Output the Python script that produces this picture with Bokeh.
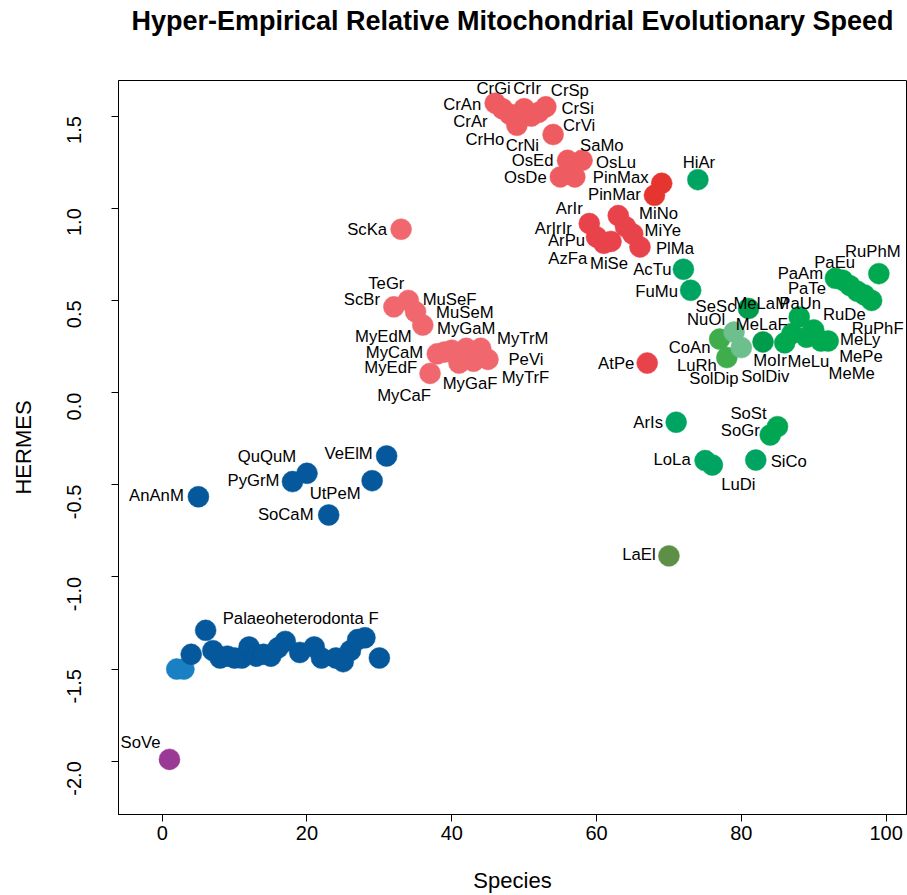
from bokeh.plotting import figure
from bokeh.models import ColumnDataSource, FixedTicker, PrintfTickFormatter, Range1d, Title
from bokeh.core.properties import value
from bokeh.embed import file_html
from bokeh.resources import INLINE
import math

# ---------------- data ----------------
species = list(range(1, 100))
hermes = [
    -1.99, -1.50, -1.50, -1.42, -0.565, -1.29, -1.40, -1.44, -1.43, -1.44,
    -1.44, -1.38, -1.43, -1.42, -1.43, -1.385, -1.35, -0.483, -1.41, -0.438,
    -1.38, -1.44, -0.664, -1.44, -1.46, -1.40, -1.34, -1.33, -0.478, -1.44,
    -0.344, 0.465, 0.886, 0.50, 0.438, 0.366, 0.104, 0.21, 0.22, 0.23,
    0.16, 0.24, 0.17, 0.24, 0.18, 1.57, 1.54, 1.51, 1.45, 1.54,
    1.50, 1.52, 1.55, 1.40, 1.17, 1.26, 1.17, 1.26, 0.917, 0.844,
    0.81, 0.82, 0.96, 0.90, 0.86, 0.79, 0.16, 1.07, 1.135, -0.886,
    -0.161, 0.669, 0.555, 1.155, -0.369, -0.393, 0.29, 0.19, 0.328, 0.244,
    0.456, -0.366, 0.275, -0.23, -0.185, 0.27, 0.32, 0.41, 0.30, 0.34,
    0.28, 0.28, 0.62, 0.61, 0.58, 0.55, 0.53, 0.50, 0.645,
]
groups = (["purple"] + ["lightblue"] * 2 + ["blue"] * 28 + ["pink"] * 14 +
          ["cr"] * 13 + ["red"] * 9 + ["pin"] * 2 + ["olive"] + ["teal"] * 6 +
          ["leaf"] * 2 + ["pale"] * 2 + ["dark"] + ["teal"] + ["dark"] +
          ["so"] * 2 + ["green"] * 14)
labels = [
    "SoVe", "", "", "", "AnAnM", "", "", "", "", "",
    "", "", "", "", "", "", "", "PyGrM", "", "QuQuM",
    "", "", "SoCaM", "", "", "", "", "", "UtPeM", "",
    "VeElM", "ScBr", "ScKa", "TeGr", "MuSeF", "MuSeM", "MyCaF", "MyEdM", "MyCaM", "MyEdF",
    "MyGaF", "MyGaM", "MyTrF", "MyTrM", "PeVi", "CrAn", "CrAr", "CrGi", "CrHo", "CrIr",
    "CrNi", "CrSi", "CrSp", "CrVi", "OsDe", "OsEd", "SaMo", "OsLu", "ArIrIr", "ArPu",
    "AzFa", "MiSe", "ArIr", "MiNo", "MiYe", "PlMa", "AtPe", "PinMar", "PinMax", "LaEl",
    "ArIs", "AcTu", "FuMu", "HiAr", "LoLa", "LuDi", "CoAn", "LuRh", "NuOl", "SolDiv",
    "SeSc", "SiCo", "MoIr", "SoGr", "SoSt", "MeLaF", "", "MeLaM", "MeLu", "MeMe",
    "MePe", "MeLy", "PaAm", "PaEu", "PaTe", "PaUn", "RuDe", "RuPhF", "RuPhM",
]
extra_labels = ["SolDip", "Palaeoheterodonta F"]
extra_anchor = [78, 6]

x_ticks = [0, 20, 40, 60, 80, 100]
y_ticks = [-2.0, -1.5, -1.0, -0.5, 0.0, 0.5, 1.0, 1.5]
title_text = "Hyper-Empirical Relative Mitochondrial Evolutionary Speed"
x_title = "Species"
y_title = "HERMES"

# ---------------- styles ----------------
palette = {
    "purple": "#9b3a96", "lightblue": "#1a80c4", "blue": "#04589b",
    "pink": "#f0686e", "cr": "#ee5c61", "red": "#e8434b", "pin": "#e6352f",
    "olive": "#5e8f46", "teal": "#00a462", "leaf": "#3fad4b", "pale": "#6dbf8d",
    "dark": "#009c4c", "so": "#00a652", "green": "#00a84f",
}
# label offsets in screen pixels (dx right, dy down) relative to the point
label_offsets = {
    "SoVe": (-29, -17), "AnAnM": (-42, -1), "PyGrM": (-39, -1), "QuQuM": (-40, -17),
    "SoCaM": (-43, 0), "UtPeM": (-37, 13), "VeElM": (-38, -2),
    "Palaeoheterodonta F": (95, -12),
    "ScBr": (-32, -7), "ScKa": (-34, 0), "TeGr": (-22, -17), "MuSeF": (34, -12),
    "MuSeM": (42, -13), "MyCaF": (-26, 22), "MyEdM": (-54, -17), "MyCaM": (-50, 0),
    "MyEdF": (-61, 17), "MyGaF": (11, 20), "MyGaM": (0, -20), "MyTrF": (52, 16),
    "MyTrM": (42, -10), "PeVi": (38, 0),
    "CrAn": (-33, 1), "CrAr": (-32, 13), "CrGi": (-16, -26), "CrHo": (-32, 14),
    "CrIr": (3, -20), "CrNi": (-9, 29), "CrSi": (39, -4), "CrSp": (24, -16),
    "CrVi": (26, -9), "OsDe": (-35, 1), "OsEd": (-35, 0), "SaMo": (27, -31),
    "OsLu": (34, 2), "ArIrIr": (-36, 5), "ArPu": (-30, 4), "AzFa": (-36, 15),
    "MiSe": (-2, 22), "ArIr": (-49, -7), "MiNo": (33, -13), "MiYe": (30, -4),
    "PlMa": (35, 2), "AtPe": (-31, 0), "PinMar": (-40, -1), "PinMax": (-41, -6),
    "LaEl": (-30, -1), "ArIs": (-28, 0), "AcTu": (-31, 0), "FuMu": (-34, 1),
    "HiAr": (1, -17), "LoLa": (-33, -1), "LuDi": (26, 19), "CoAn": (-30, 8),
    "LuRh": (-30, 8), "SolDip": (-13, 21), "NuOl": (-28, -13), "SolDiv": (24, 29),
    "SeSc": (-33, -2), "SiCo": (33, 1), "MoIr": (7, 19), "SoGr": (-30, -4),
    "SoSt": (-29, -13), "MeLaF": (-23, -18), "MeLaM": (-38, -13), "MeLu": (2, 24),
    "MeMe": (38, 44), "MePe": (40, 16), "MeLy": (32, -1), "PaAm": (-35, -5),
    "PaEu": (-8, -18), "PaTe": (-43, 3), "PaUn": (-57, 12), "RuDe": (-20, 20),
    "RuPhF": (6, 28), "RuPhM": (-6, -22),
}

FONT = "Liberation Sans"

p = figure(width=907, height=895, output_backend="svg", toolbar_location=None,
           x_range=Range1d(-6.04, 102.82), y_range=Range1d(-2.289, 1.693),
           min_border_left=118, min_border_right=1, min_border_top=80,
           min_border_bottom=80, title=None)
p.background_fill_color = "white"
p.border_fill_color = "white"
p.outline_line_color = "black"
p.outline_line_width = 1
p.xgrid.visible = False
p.ygrid.visible = False

# blank spacer panel between the frame and the title, then the title itself
spacer = Title(text=" ", text_font_size="10px")
t = Title(text=title_text, align="center", vertical_align="top",
          text_font=FONT, text_font_size="27px", text_font_style="bold",
          text_color="black")
try:
    spacer.standoff = 25
    t.standoff = 10
except AttributeError:
    pass
p.add_layout(spacer, "above")
p.add_layout(t, "above")

src = ColumnDataSource(dict(
    x=species, y=hermes,
    color=[palette[g] for g in groups],
))
p.scatter("x", "y", source=src, size=21, fill_color="color", line_color="color",
          line_width=0.5)

lx, ly, lt, ldx, ldy = [], [], [], [], []
for sp, h, lab in zip(species, hermes, labels):
    if lab:
        lx.append(sp); ly.append(h); lt.append(lab)
        ldx.append(label_offsets[lab][0]); ldy.append(label_offsets[lab][1])
for lab, anc in zip(extra_labels, extra_anchor):
    i = species.index(anc)
    lx.append(species[i]); ly.append(hermes[i]); lt.append(lab)
    ldx.append(label_offsets[lab][0]); ldy.append(label_offsets[lab][1])

lsrc = ColumnDataSource(dict(x=lx, y=ly, text=lt, dx=ldx, dy=ldy))
p.text("x", "y", text="text", source=lsrc, x_offset="dx", y_offset="dy",
       text_align="center", text_baseline="middle",
       text_font=value(FONT), text_font_size=value("16.7px"), text_color="black")

for ax in (p.xaxis[0], p.yaxis[0]):
    ax.axis_line_color = "black"
    ax.major_tick_line_color = "black"
    ax.minor_tick_line_color = None
    ax.major_tick_out = 7
    ax.major_tick_in = 0
    ax.major_label_text_font = FONT
    ax.major_label_text_font_size = "20px"
    ax.major_label_text_color = "black"
    ax.axis_label_text_font = FONT
    ax.axis_label_text_font_size = "22px"
    ax.axis_label_text_font_style = "normal"
    ax.axis_label_text_color = "black"

p.xaxis.ticker = FixedTicker(ticks=x_ticks)
p.xaxis.formatter = PrintfTickFormatter(format="%d")
p.yaxis.ticker = FixedTicker(ticks=y_ticks)
p.yaxis.formatter = PrintfTickFormatter(format="%.1f")
p.yaxis.major_label_orientation = math.pi / 2
p.xaxis.axis_label = x_title
p.yaxis.axis_label = y_title
p.xaxis.major_label_standoff = 4
p.xaxis.axis_label_standoff = 25
p.yaxis.major_label_standoff = 37
p.yaxis.axis_label_standoff = 22

open("out.html", "w").write(file_html(p, INLINE))
